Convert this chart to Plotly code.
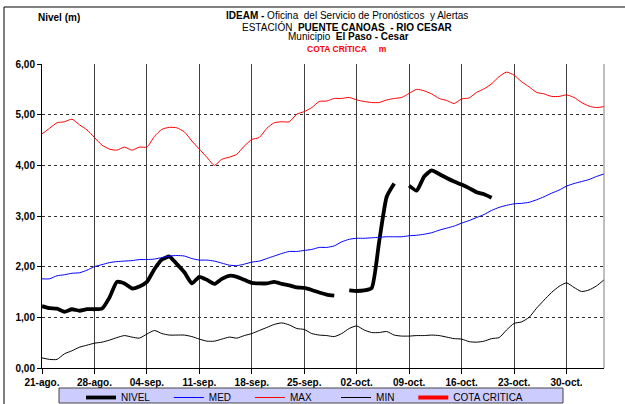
import pandas as pd
import plotly.graph_objects as go

# ---------------- data ----------------
start_date = "2023-08-21"
n_days = 76
dates = pd.date_range(start_date, periods=n_days, freq="D")

tick_dates = ["2023-08-21", "2023-08-28", "2023-09-04", "2023-09-11", "2023-09-18",
              "2023-09-25", "2023-10-02", "2023-10-09", "2023-10-16", "2023-10-23",
              "2023-10-30"]
tick_labels = ["21-ago.", "28-ago.", "04-sep.", "11-sep.", "18-sep.", "25-sep.",
               "02-oct.", "09-oct.", "16-oct.", "23-oct.", "30-oct."]
y_ticks = [0, 1, 2, 3, 4, 5, 6]
series_names = ["NIVEL", "MED", "MAX", "MIN", "COTA CRITICA"]

nivel = [1.22, 1.18, 1.17, 1.11, 1.16, 1.13, 1.16, 1.16, 1.17, 1.39,
         1.70, 1.67, 1.57, 1.61, 1.70, 1.95, 2.14, 2.20, 2.05, 1.89,
         1.67, 1.80, 1.74, 1.66, 1.76, 1.82, 1.80, 1.74, 1.68, 1.67,
         1.67, 1.70, 1.66, 1.63, 1.59, 1.58, 1.54, 1.49, 1.45, 1.43,
         None, 1.53, 1.52, 1.53, 1.58, 2.50, 3.38, 3.64, None, 3.60,
         3.50, 3.78, 3.90, 3.83, 3.75, 3.68, 3.62, 3.55, 3.47, 3.43,
         3.36, None, None, None, None, None, None, None, None, None,
         None, None, None, None, None, None]

med = [1.76, 1.76, 1.82, 1.84, 1.87, 1.88, 1.93, 2.00, 2.04, 2.08,
       2.10, 2.11, 2.12, 2.14, 2.14, 2.15, 2.18, 2.21, 2.22, 2.21,
       2.16, 2.13, 2.13, 2.11, 2.07, 2.03, 2.02, 2.05, 2.09, 2.11,
       2.16, 2.21, 2.26, 2.30, 2.30, 2.32, 2.34, 2.38, 2.38, 2.41,
       2.49, 2.54, 2.56, 2.56, 2.57, 2.58, 2.59, 2.59, 2.59, 2.61,
       2.62, 2.64, 2.67, 2.72, 2.76, 2.80, 2.86, 2.91, 2.97, 3.03,
       3.11, 3.17, 3.21, 3.24, 3.25, 3.27, 3.32, 3.38, 3.45, 3.51,
       3.59, 3.64, 3.68, 3.72, 3.78, 3.83]

maxv = [4.62, 4.73, 4.84, 4.86, 4.91, 4.80, 4.70, 4.55, 4.40, 4.32,
        4.30, 4.36, 4.30, 4.36, 4.36, 4.57, 4.71, 4.75, 4.74, 4.66,
        4.48, 4.32, 4.16, 4.00, 4.12, 4.16, 4.22, 4.38, 4.51, 4.55,
        4.73, 4.84, 4.86, 4.86, 5.01, 5.06, 5.14, 5.26, 5.27, 5.32,
        5.32, 5.34, 5.29, 5.26, 5.24, 5.24, 5.29, 5.32, 5.34, 5.42,
        5.50, 5.47, 5.41, 5.32, 5.28, 5.22, 5.31, 5.33, 5.44, 5.51,
        5.61, 5.75, 5.84, 5.78, 5.65, 5.55, 5.44, 5.41, 5.36, 5.36,
        5.39, 5.34, 5.24, 5.17, 5.14, 5.16]

minv = [0.20, 0.17, 0.17, 0.28, 0.34, 0.41, 0.45, 0.49, 0.51, 0.55,
        0.60, 0.64, 0.61, 0.59, 0.67, 0.74, 0.68, 0.65, 0.65, 0.65,
        0.62, 0.57, 0.53, 0.53, 0.57, 0.61, 0.59, 0.64, 0.68, 0.74,
        0.80, 0.86, 0.89, 0.85, 0.78, 0.76, 0.68, 0.65, 0.64, 0.62,
        0.68, 0.78, 0.83, 0.75, 0.70, 0.70, 0.72, 0.65, 0.63, 0.63,
        0.64, 0.64, 0.65, 0.64, 0.61, 0.58, 0.57, 0.52, 0.51, 0.53,
        0.58, 0.60, 0.75, 0.88, 0.91, 1.00, 1.18, 1.34, 1.49, 1.61,
        1.68, 1.59, 1.51, 1.54, 1.62, 1.74]

cota_critica = [None]

# ---------------- figure ----------------
W, H = 625, 404
L, R, T, B = 42, 21, 64, 36
pw, ph = W - L - R, H - T - B


def px_x(px):
    return (px - L) / pw


def px_y(py):
    return (H - B - py) / ph


FONT = "Liberation Sans, Arial, sans-serif"
nb = "\u00a0"
# trailing non-breaking spaces only space the legend entries like the original
legend_pad = [5, 5, 7, 5, 0]
leg = [n + nb * p for n, p in zip(series_names, legend_pad)]

fig = go.Figure()
fig.add_trace(go.Scatter(x=dates, y=nivel, name=leg[0], mode="lines",
                         line=dict(color="#000000", width=3.8, shape="spline", smoothing=0.5),
                         connectgaps=False))
fig.add_trace(go.Scatter(x=dates, y=med, name=leg[1], mode="lines",
                         line=dict(color="#0000ff", width=1, shape="spline", smoothing=0.6)))
fig.add_trace(go.Scatter(x=dates, y=maxv, name=leg[2], mode="lines",
                         line=dict(color="#ff0000", width=1, shape="spline", smoothing=0.6)))
fig.add_trace(go.Scatter(x=dates, y=minv, name=leg[3], mode="lines",
                         line=dict(color="#000000", width=1, shape="spline", smoothing=0.6)))
fig.add_trace(go.Scatter(x=[None], y=cota_critica, name=leg[4], mode="lines",
                         line=dict(color="#ff0000", width=4)))

fig.update_layout(
    width=W, height=H,
    margin=dict(l=L, r=R, t=T, b=B, pad=0, autoexpand=False),
    paper_bgcolor="white", plot_bgcolor="white",
    separators=",.",
    font=dict(family=FONT, size=10, color="black"),
    showlegend=True,
    legend=dict(orientation="h",
                xref="container", x=81 / W, xanchor="left",
                yref="container", y=(H - 383) / H, yanchor="top",
                bgcolor="rgba(0,0,0,0)", borderwidth=0,
                font=dict(family=FONT, size=10, color="black"),
                itemwidth=30, traceorder="normal"),
)

fig.update_xaxes(
    range=[dates[0], dates[-1]],
    tickvals=tick_dates, ticktext=tick_labels,
    tickfont=dict(family=FONT, size=10, color="black", weight="bold"),
    showgrid=True, gridcolor="#404040", gridwidth=1,
    showline=True, linecolor="#000000", linewidth=1,
    ticks="outside", ticklen=5, tickcolor="#000000",
    zeroline=False, automargin=False,
)
fig.update_yaxes(
    range=[0, 6], tickvals=y_ticks, tickformat=".2f",
    tickfont=dict(family=FONT, size=10, color="black", weight="bold"),
    showgrid=True, gridcolor="#303030", gridwidth=1, griddash="dot",
    showline=True, linecolor="#000000", linewidth=1,
    ticks="outside", ticklen=4, tickcolor="#000000",
    zeroline=False, automargin=False,
)

shapes = [
    # outer chart frame
    dict(type="rect", xref="paper", yref="paper",
         x0=px_x(4), x1=px_x(640), y0=px_y(420), y1=px_y(7),
         line=dict(color="#000000", width=1), fillcolor="rgba(0,0,0,0)", layer="below"),
    # right border of plot area
    dict(type="line", xref="paper", yref="paper", x0=1, x1=1, y0=0, y1=1,
         line=dict(color="#808080", width=1)),
    # legend box
    dict(type="rect", xref="paper", yref="paper",
         x0=px_x(59), x1=px_x(563), y0=px_y(403), y1=px_y(388),
         line=dict(color="#444444", width=1), fillcolor="#ccccff", layer="above"),
]
fig.update_layout(shapes=shapes)

ann = [
    dict(text="<b>Nivel (m)</b>", x=px_x(36), y=px_y(17), xanchor="left", yanchor="middle",
         font=dict(size=10)),
    dict(text="<b>IDEAM -</b> Oficina" + nb + " del Servicio de Pronósticos" + nb + " y Alertas",
         x=px_x(347), y=px_y(15), xanchor="center", yanchor="middle", font=dict(size=10)),
    dict(text="ESTACIÓN" + nb + " <b>PUENTE CANOAS" + nb + " - RIO CESAR</b>",
         x=px_x(347), y=px_y(26), xanchor="center", yanchor="middle", font=dict(size=10)),
    dict(text="Municipio" + nb + " <b>El Paso - Cesar</b>",
         x=px_x(348), y=px_y(37), xanchor="center", yanchor="middle", font=dict(size=10)),
    dict(text="<b>COTA CRÍTICA" + nb * 5 + "m</b>",
         x=px_x(347), y=px_y(48), xanchor="center", yanchor="middle",
         font=dict(size=8.5, color="#ff0000")),
]
for a in ann:
    a.update(xref="paper", yref="paper", showarrow=False, height=11)
    a["font"] = dict(family=FONT, color=a["font"].get("color", "black"), size=a["font"]["size"])
fig.update_layout(annotations=ann)

fig.write_html("out.html", config={"displayModeBar": False},
               post_script="document.body.style.margin='0';document.body.style.overflow='hidden';")
